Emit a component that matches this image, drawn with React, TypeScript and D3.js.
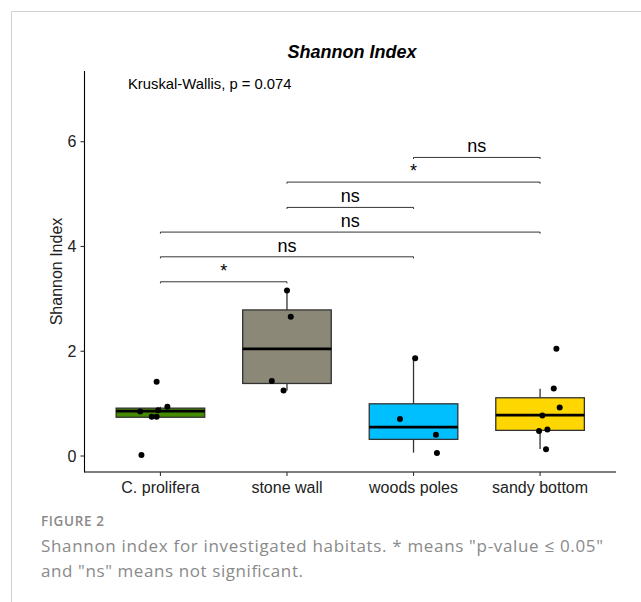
import React from 'react';
import * as d3 from 'd3';

// habitats and their fill colours
const habitats = ['C. prolifera', 'stone wall', 'woods poles', 'sandy bottom'];
const fills = ['#458B00', '#8B8878', '#00BFFF', '#FFD700'];

// box statistics (lower whisker, q1, median, q3, upper whisker)
const whiskerLow = [0.74, 1.25, 0.065, 0.133];
const q1 = [0.74, 1.385, 0.318, 0.49];
const medians = [0.857, 2.046, 0.552, 0.781];
const q3 = [0.914, 2.789, 0.997, 1.112];
const whiskerHigh = [0.94, 3.162, 1.867, 1.284];

// jittered samples: habitat index, jitter (category units), Shannon value
const pointGroup = [0, 0, 0, 0, 0, 0, 0, 1, 1, 1, 1, 2, 2, 2, 2, 3, 3, 3, 3, 3, 3, 3];
const pointJitter = [-0.03, 0.055, -0.16, -0.018, -0.069, -0.03, -0.15, 0, 0.03, -0.12, -0.027, 0.013, -0.107, 0.177, 0.185, 0.129, 0.108, 0.155, 0.018, -0.008, 0.058, 0.047];
const pointValue = [1.417, 0.94, 0.85, 0.876, 0.75, 0.75, 0.02, 3.16, 2.66, 1.43, 1.25, 1.867, 0.705, 0.408, 0.057, 2.05, 1.29, 0.928, 0.775, 0.476, 0.508, 0.128];

// pairwise comparisons
const compFrom = [0, 0, 0, 1, 1, 2];
const compTo = [1, 2, 3, 2, 3, 3];
const compY = [3.326, 3.803, 4.275, 4.746, 5.229, 5.7];
const compLabel = ['*', 'ns', 'ns', 'ns', '*', 'ns'];

const yTicks = [0, 2, 4, 6];

const W = 641;
const H = 602;
const panel = { left: 84.5, right: 616, top: 71, bottom: 472 };
const chartFont = '"Liberation Sans", Arial, Helvetica, sans-serif';
const captionFont = '"Open Sans", sans-serif';

export default function App() {
  const x = d3.scalePoint<string>().domain(habitats).range([panel.left, panel.right]).padding(0.6);
  const step = x.step();
  const y = d3.scaleLinear().domain([-0.305, 7.35]).range([panel.bottom, panel.top]);
  const boxW = step * 0.7;
  const tip = 0.03;

  return (
    <svg width={W} height={H} style={{ position: 'absolute', left: 0, top: 0, background: '#fff' }}>
      {/* page frame */}
      <line x1={11.5} y1={11.5} x2={W} y2={11.5} stroke="#d0d0d0" />
      <line x1={11.5} y1={11.5} x2={11.5} y2={H} stroke="#d0d0d0" />

      <text x={352} y={57.5} textAnchor="middle" fontFamily={chartFont} fontSize={18} fontWeight="bold" fontStyle="italic">
        Shannon Index
      </text>

      {/* boxes */}
      {habitats.map((h, i) => {
        const cx = x(h) as number;
        return (
          <g key={h}>
            <line x1={cx} x2={cx} y1={y(whiskerHigh[i])} y2={y(q3[i])} stroke="#333" strokeWidth={1.3} />
            <line x1={cx} x2={cx} y1={y(q1[i])} y2={y(whiskerLow[i])} stroke="#333" strokeWidth={1.3} />
            <rect x={cx - boxW / 2} y={y(q3[i])} width={boxW} height={y(q1[i]) - y(q3[i])} fill={fills[i]} stroke="#333" strokeWidth={1.3} />
            <line x1={cx - boxW / 2} x2={cx + boxW / 2} y1={y(medians[i])} y2={y(medians[i])} stroke="#000" strokeWidth={2.6} />
          </g>
        );
      })}

      {/* jittered points */}
      {pointValue.map((v, i) => (
        <circle key={i} cx={(x(habitats[pointGroup[i]]) as number) + pointJitter[i] * step} cy={y(v)} r={3} fill="#000" />
      ))}

      {/* significance brackets */}
      {compY.map((v, i) => {
        const x1 = x(habitats[compFrom[i]]) as number;
        const x2 = x(habitats[compTo[i]]) as number;
        const path = d3.path();
        path.moveTo(x1, y(v - tip));
        path.lineTo(x1, y(v));
        path.lineTo(x2, y(v));
        path.lineTo(x2, y(v - tip));
        return (
          <g key={i}>
            <path d={path.toString()} fill="none" stroke="#000" strokeWidth={0.8} />
            <text x={(x1 + x2) / 2} y={y(v) - 5} textAnchor="middle" fontFamily={chartFont} fontSize={18}>
              {compLabel[i]}
            </text>
          </g>
        );
      })}

      <text x={128} y={89} fontFamily={chartFont} fontSize={14.8}>Kruskal-Wallis, p = 0.074</text>

      {/* axes */}
      <line x1={panel.left} x2={panel.left} y1={panel.top} y2={panel.bottom + 0.5} stroke="#000" strokeWidth={1.1} />
      <line x1={panel.left} x2={panel.right} y1={panel.bottom} y2={panel.bottom} stroke="#000" strokeWidth={1.1} />
      {yTicks.map(t => (
        <g key={t}>
          <line x1={panel.left - 4} x2={panel.left} y1={y(t)} y2={y(t)} stroke="#333" strokeWidth={1.1} />
          <text x={panel.left - 8} y={y(t)} dy="0.36em" textAnchor="end" fontFamily={chartFont} fontSize={16} fill="#222">
            {t}
          </text>
        </g>
      ))}
      {habitats.map(h => (
        <g key={h}>
          <line x1={x(h)} x2={x(h)} y1={panel.bottom} y2={panel.bottom + 4} stroke="#333" strokeWidth={1.1} />
          <text x={x(h)} y={493.3} textAnchor="middle" fontFamily={chartFont} fontSize={16} fill="#222">
            {h}
          </text>
        </g>
      ))}
      <text transform={`translate(62,${(panel.top + panel.bottom) / 2}) rotate(-90)`} textAnchor="middle" fontFamily={chartFont} fontSize={16} fill="#222">
        Shannon Index
      </text>

      {/* caption */}
      <text x={41} y={526} fontFamily={captionFont} fontSize={13.5} fontWeight={600} fill="#8a8a8a" textLength={63} lengthAdjust="spacing">
        FIGURE 2
      </text>
      <text x={41} y={552} fontFamily={captionFont} fontSize={17} fill="#8a8a8a" textLength={562} lengthAdjust="spacing">
        Shannon index for investigated habitats. * means "p-value ≤ 0.05"
      </text>
      <text x={41} y={577} fontFamily={captionFont} fontSize={17} fill="#8a8a8a" textLength={262} lengthAdjust="spacing">
        and "ns" means not significant.
      </text>
    </svg>
  );
}
